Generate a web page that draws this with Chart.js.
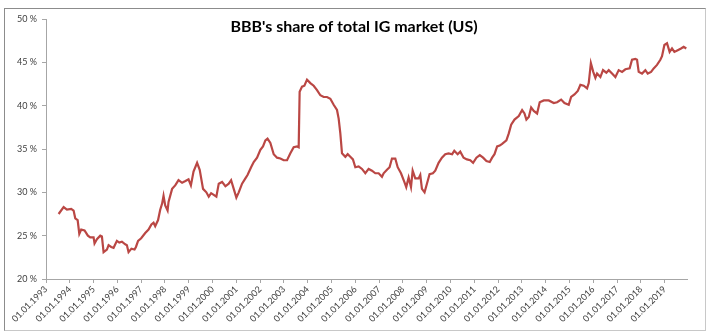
<!DOCTYPE html>
<html>
    <head>
        <meta charset="utf-8">
        <script src="https://cdn.jsdelivr.net/npm/chart.js@4.4.0/dist/chart.umd.min.js"></script>
        <style>
            body { margin: 0; background: white; }
            #ramka { position: absolute; left: 4px; top: 8px; width: 700px; height: 321px;
                     border: 1px solid #8c8c8c; border-right-color: #c8c8c8; border-bottom-color: #c8c8c8; }
        </style>
    </head>
    <body>
        <div style="position: relative; width: 713px; height: 336px;">
            <canvas id="wykres" width="713" height="336"></canvas>
            <div id="ramka"></div>
        </div>
        <script>
            // time as decimal year, share in percent
            var years = [
                1993.53, 1993.74, 1993.88, 1994.06, 1994.16, 1994.23, 1994.33, 1994.40, 1994.48, 1994.62,
                1994.76, 1994.86, 1995.00, 1995.04, 1995.14, 1995.28, 1995.35, 1995.42, 1995.56, 1995.63,
                1995.74, 1995.84, 1995.98, 1996.08, 1996.19, 1996.33, 1996.40, 1996.47, 1996.59, 1996.72,
                1996.78, 1996.87, 1997.00, 1997.17, 1997.31, 1997.43, 1997.52, 1997.59, 1997.71, 1997.80,
                1997.88, 1997.94, 1998.01, 1998.11, 1998.15, 1998.30, 1998.43, 1998.57, 1998.72, 1998.86,
                1998.99, 1999.09, 1999.20, 1999.35, 1999.46, 1999.60, 1999.74, 1999.84, 1999.94, 2000.05,
                2000.16, 2000.26, 2000.40, 2000.54, 2000.68, 2000.78, 2000.89, 2001.00, 2001.10, 2001.24,
                2001.38, 2001.47, 2001.62, 2001.73, 2001.87, 2002.01, 2002.12, 2002.22, 2002.31, 2002.43,
                2002.57, 2002.71, 2002.85, 2002.99, 2003.13, 2003.27, 2003.41, 2003.55, 2003.62, 2003.66,
                2003.76, 2003.86, 2003.97, 2004.11, 2004.25, 2004.39, 2004.53, 2004.67, 2004.81, 2004.95,
                2005.09, 2005.23, 2005.30, 2005.37, 2005.44, 2005.58, 2005.68, 2005.79, 2005.90, 2006.00,
                2006.14, 2006.28, 2006.42, 2006.56, 2006.70, 2006.84, 2006.98, 2007.12, 2007.19, 2007.33,
                2007.44, 2007.54, 2007.68, 2007.78, 2007.92, 2008.06, 2008.14, 2008.24, 2008.34, 2008.41,
                2008.52, 2008.66, 2008.73, 2008.80, 2008.91, 2009.01, 2009.12, 2009.26, 2009.36, 2009.50,
                2009.64, 2009.78, 2009.92, 2010.07, 2010.16, 2010.30, 2010.41, 2010.55, 2010.69, 2010.83,
                2010.95, 2011.09, 2011.23, 2011.37, 2011.51, 2011.65, 2011.75, 2011.85, 2011.96, 2012.07,
                2012.17, 2012.35, 2012.45, 2012.55, 2012.69, 2012.87, 2013.01, 2013.11, 2013.19, 2013.29,
                2013.39, 2013.50, 2013.64, 2013.75, 2013.92, 2014.13, 2014.34, 2014.48, 2014.65, 2014.79,
                2014.97, 2015.07, 2015.21, 2015.35, 2015.46, 2015.60, 2015.74, 2015.81, 2015.90, 2016.00,
                2016.09, 2016.16, 2016.30, 2016.41, 2016.55, 2016.65, 2016.79, 2016.93, 2017.07, 2017.21,
                2017.35, 2017.53, 2017.63, 2017.77, 2017.84, 2017.91, 2018.05, 2018.19, 2018.29, 2018.43,
                2018.54, 2018.68, 2018.82, 2018.89, 2018.99, 2019.10, 2019.21, 2019.31, 2019.41, 2019.55,
                2019.69, 2019.80, 2019.91
            ];
            var bbbShare = [
                27.5, 28.3, 28.0, 28.1, 27.9, 27.0, 26.8, 25.2, 25.7, 25.6,
                25.0, 24.8, 24.8, 24.1, 24.6, 25.0, 24.9, 23.1, 23.4, 23.9,
                23.7, 23.6, 24.4, 24.2, 24.3, 24.0, 23.9, 23.1, 23.5, 23.4,
                23.7, 24.4, 24.7, 25.3, 25.7, 26.3, 26.5, 26.1, 26.8, 28.0,
                28.7, 29.6, 28.5, 27.9, 28.9, 30.4, 30.8, 31.4, 31.1, 31.3,
                31.5, 30.8, 32.4, 33.4, 32.6, 30.4, 30.0, 29.5, 29.9, 29.7,
                29.5, 31.0, 31.2, 30.7, 31.0, 31.4, 30.4, 29.4, 30.0, 31.0,
                31.6, 32.0, 32.9, 33.5, 34.0, 34.9, 35.3, 36.0, 36.2, 35.7,
                34.4, 34.0, 33.9, 33.7, 33.7, 34.5, 35.2, 35.3, 35.2, 41.6,
                42.2, 42.3, 43.0, 42.6, 42.3, 41.8, 41.2, 41.0, 41.0, 40.8,
                40.1, 39.5, 38.5, 36.8, 34.5, 34.1, 34.4, 34.1, 33.8, 32.9,
                33.0, 32.7, 32.2, 32.7, 32.5, 32.2, 32.2, 31.8, 32.2, 32.6,
                32.9, 33.9, 33.9, 32.9, 32.2, 31.2, 30.6, 31.7, 30.6, 32.5,
                31.6, 31.6, 32.0, 30.4, 30.0, 31.0, 32.1, 32.2, 32.5, 33.4,
                34.0, 34.4, 34.5, 34.4, 34.8, 34.4, 34.7, 34.0, 33.8, 33.7,
                33.4, 34.0, 34.3, 34.0, 33.6, 33.5, 34.0, 34.4, 35.3, 35.4,
                35.6, 36.0, 36.8, 37.8, 38.4, 38.8, 39.5, 39.1, 38.4, 38.7,
                39.8, 39.4, 39.1, 40.4, 40.6, 40.6, 40.3, 40.4, 40.7, 40.3,
                40.1, 41.0, 41.3, 41.7, 42.4, 42.3, 42.0, 42.6, 44.9, 43.9,
                43.2, 43.7, 43.3, 44.1, 43.8, 44.1, 43.7, 43.3, 44.1, 43.9,
                44.2, 44.3, 45.3, 45.4, 45.3, 43.9, 43.7, 44.1, 43.7, 43.9,
                44.3, 44.7, 45.3, 45.7, 47.0, 47.2, 46.2, 46.6, 46.2, 46.4,
                46.6, 46.8, 46.6
            ];
            var tickYears = [];
            for (var r = 1993; r <= 2019; r++) tickYears.push(r);
            var yTicks = [20, 25, 30, 35, 40, 45, 50];
            var tytul = "BBB's share of total IG market (US)";

            var punkty = years.map(function (x, i) { return { x: x, y: bbbShare[i] }; });

            var tytulPlugin = {
                id: "tytul",
                afterDraw: function (chart) {
                    var c = chart.ctx;
                    c.save();
                    c.font = "bold 16px Lato";
                    c.fillStyle = "#000";
                    c.textAlign = "center";
                    c.textBaseline = "middle";
                    c.fillText(tytul, 354, 27);
                    c.restore();
                }
            };

            var kolorTekstu = "#404040";
            const ctx = document.getElementById("wykres").getContext("2d");
            const wykres = new Chart(ctx, {
                type: "line",
                data: { datasets: [ {
                    label: "BBB",
                    data: punkty,
                    borderColor: "#BA4744",
                    borderWidth: 2.2,
                    pointRadius: 0,
                    tension: 0,
                    fill: false
                } ] },
                options: {
                    responsive: false,
                    animation: false,
                    layout: { padding: { left: 6, top: 19, right: 26, bottom: 0 } },
                    plugins: { legend: { display: false }, tooltip: { enabled: false } },
                    scales: {
                        x: {
                            type: "linear",
                            min: 1993,
                            max: 2019.94,
                            afterBuildTicks: function (s) { s.ticks = tickYears.map(function (v) { return { value: v }; }); },
                            afterFit: function (s) { s.height = 57; },
                            ticks: {
                                autoSkip: false, maxRotation: 45, minRotation: 45, padding: 1,
                                color: kolorTekstu, font: { family: "Lato", size: 9 },
                                callback: function (v) { return "01.01." + v; }
                            },
                            grid: { drawOnChartArea: false, tickLength: 4, color: "#a6a6a6" },
                            border: { color: "#a6a6a6" }
                        },
                        y: {
                            min: 20,
                            max: 50,
                            afterBuildTicks: function (s) { s.ticks = yTicks.map(function (v) { return { value: v }; }); },
                            afterFit: function (s) { s.width = 40; },
                            ticks: {
                                padding: 5, color: kolorTekstu, font: { family: "Lato", size: 9 },
                                callback: function (v) { return v + " %"; }
                            },
                            grid: { drawOnChartArea: false, tickLength: 4, color: "#a6a6a6" },
                            border: { color: "#a6a6a6" }
                        }
                    }
                },
                plugins: [tytulPlugin]
            });
        </script>
    </body>
</html>
